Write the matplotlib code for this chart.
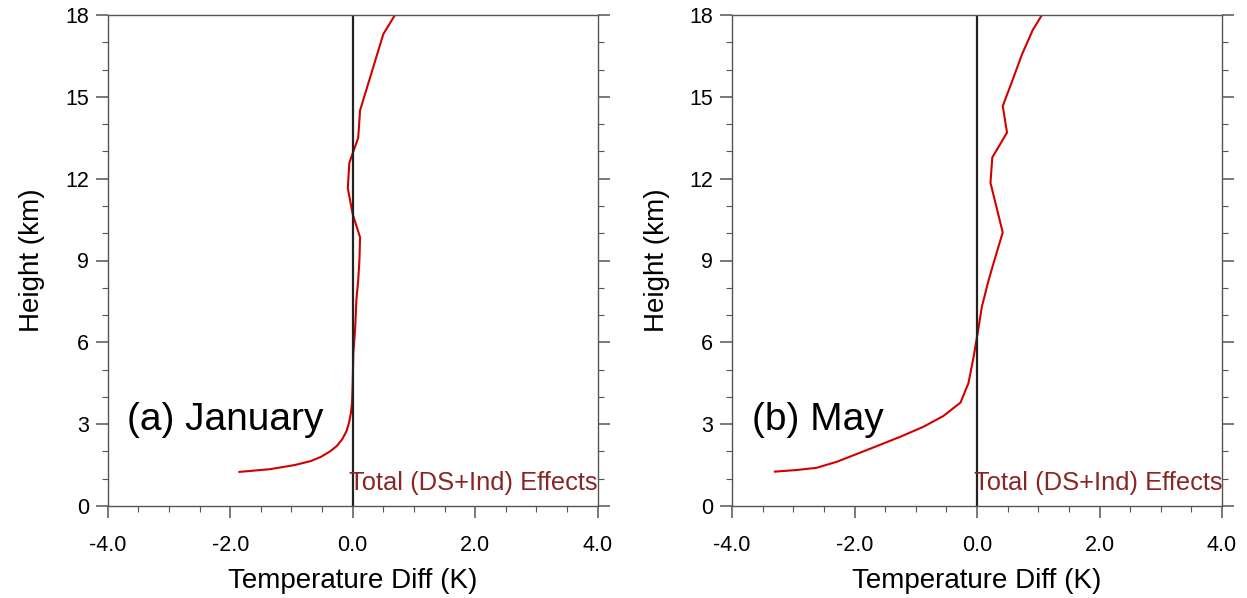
import numpy as np
import matplotlib.pyplot as plt
from matplotlib.ticker import MultipleLocator, FormatStrFormatter

plt.rcParams['font.family'] = ['Liberation Sans', 'DejaVu Sans']

# January profile (height km, temperature diff K)
jan_height = [1.25, 1.35, 1.5, 1.65, 1.8, 2.0, 2.2, 2.45, 2.75, 3.05, 3.4, 3.8,
              4.5, 5.6, 6.5, 7.55, 8.28, 9.02, 9.85, 10.7, 11.65, 12.58, 13.5,
              14.5, 17.3, 18.0]
jan_diff = [-1.85, -1.35, -0.95, -0.68, -0.52, -0.37, -0.26, -0.17, -0.10, -0.06,
            -0.03, -0.01, 0.0, 0.01, 0.04, 0.06, 0.09, 0.11, 0.12, 0.0, -0.08,
            -0.055, 0.09, 0.12, 0.50, 0.69]

# May profile
may_height = [1.26, 1.32, 1.40, 1.62, 2.05, 2.54, 2.91, 3.30, 3.79, 4.5, 5.47,
              6.33, 7.31, 8.28, 8.9, 10.03, 11.85, 12.78, 13.69, 14.66, 15.55,
              16.53, 17.45, 18.0]
may_diff = [-3.30, -2.94, -2.62, -2.29, -1.80, -1.25, -0.87, -0.55, -0.27, -0.14,
            -0.055, 0.01, 0.08, 0.19, 0.27, 0.42, 0.22, 0.25, 0.49, 0.42, 0.57,
            0.73, 0.91, 1.06]

panels = [('(a) January', jan_diff, jan_height), ('(b) May', may_diff, may_height)]

fig = plt.figure(figsize=(12.47, 5.98), dpi=100)
lefts = [107.7 / 1247, 732 / 1247]
w = 490 / 1247
b = 92 / 598
h = 491 / 598

for left, (title, x, y) in zip(lefts, panels):
    ax = fig.add_axes([left, b, w, h])
    ax.plot(x, y, color='#d00000', lw=1.5)
    ax.axvline(0, color='#222222', lw=1.6)
    ax.set_xlim(-4, 4)
    ax.set_ylim(0, 18)
    ax.xaxis.set_major_locator(MultipleLocator(2))
    ax.xaxis.set_minor_locator(MultipleLocator(0.5))
    ax.yaxis.set_major_locator(MultipleLocator(3))
    ax.yaxis.set_minor_locator(MultipleLocator(1))
    ax.xaxis.set_major_formatter(FormatStrFormatter('%.1f'))
    ax.tick_params(which='both', direction='out', top=False, right=True,
                   color='#555555', labelsize=15.5)
    ax.tick_params(which='major', length=8.6, width=1.1, pad=12)
    ax.tick_params(which='minor', length=4.3, width=0.8)
    ax.tick_params(axis='y', which='major', pad=5)
    for s in ax.spines.values():
        s.set_color('#555555')
        s.set_linewidth(1.0)
    ax.set_xlabel('Temperature Diff (K)', fontsize=20, labelpad=9)
    ax.set_ylabel('Height (km)', fontsize=20, labelpad=14)
    ax.text(0.04, 0.155, title, transform=ax.transAxes, fontsize=28,
            ha='left', va='baseline')
    ax.text(1.0, 0.033, 'Total (DS+Ind) Effects', transform=ax.transAxes,
            fontsize=18.4, color='#8b2525', ha='right', va='baseline')

fig.savefig('out.png', dpi=100)
